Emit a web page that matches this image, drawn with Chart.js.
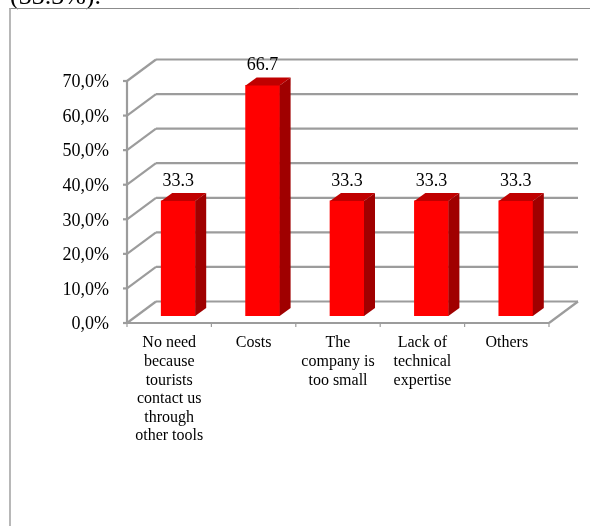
<!DOCTYPE html>
<html>
<head>
<meta charset="utf-8">
<style>
html, body { margin: 0; padding: 0; background: #fff; overflow: hidden; }
#wrap { position: absolute; left: 0; top: 0; width: 590px; height: 526px; }
</style>
<script src="https://cdn.jsdelivr.net/npm/chart.js@4/dist/chart.umd.min.js"></script>
</head>
<body>
<div id="wrap"><canvas id="barChart"></canvas></div>
<script>
var categories = [
	['No need', 'because', 'tourists', 'contact us', 'through', 'other tools'],
	'Costs',
	['The', 'company is', 'too small'],
	['Lack of', 'technical', 'expertise'],
	'Others'
];
var shares = [33.3, 66.7, 33.3, 33.3, 33.3];
var yTicks = [0, 10, 20, 30, 40, 50, 60, 70];

var serif = '"Liberation Serif", "Times New Roman", serif';
var gridColor = '#9c9c9c';

// depth of the fake 3d box and of the bars
var wallDx = 29, wallDy = -21.5;
var barDx = 9, barDy = -7;
var sideDx = 11, sideDy = -8;

function line(ctx, x1, y1, x2, y2) {
	ctx.beginPath();
	ctx.moveTo(x1, y1);
	ctx.lineTo(x2, y2);
	ctx.stroke();
}

function poly(ctx, pts, color) {
	ctx.fillStyle = color;
	ctx.beginPath();
	ctx.moveTo(pts[0][0], pts[0][1]);
	for (var i = 1; i < pts.length; i++) ctx.lineTo(pts[i][0], pts[i][1]);
	ctx.closePath();
	ctx.fill();
}

// frame, clipped sentence above the chart, walls and floor
var wallsPlugin = {
	id: 'walls',
	beforeDraw: function(chart) {
		var ctx = chart.ctx, a = chart.chartArea, y = chart.scales.y;
		ctx.save();
		ctx.fillStyle = '#000';
		ctx.font = '26px ' + serif;
		ctx.textAlign = 'left';
		ctx.textBaseline = 'alphabetic';
		ctx.fillText('(33.3%).', 10, 4);

		ctx.strokeStyle = '#8c8c8c';
		ctx.lineWidth = 1;
		line(ctx, 9.5, 8.5, 590, 8.5);
		ctx.strokeStyle = '#a6a6a6';
		ctx.lineWidth = 1.6;
		line(ctx, 10, 8, 10, 526);

		ctx.strokeStyle = gridColor;
		ctx.lineWidth = 2.2;
		yTicks.forEach(function(t) {
			var py = y.getPixelForValue(t);
			line(ctx, a.left, py, a.left + wallDx, py + wallDy);
			line(ctx, a.left + wallDx, py + wallDy, a.right + wallDx, py + wallDy);
		});
		var y0 = y.getPixelForValue(0);
		line(ctx, a.right, y0, a.right + wallDx, y0 + wallDy);
		ctx.restore();
	}
};

// shifts bars back into the box and adds top and side faces
var barsPlugin = {
	id: 'bars3d',
	beforeDatasetsDraw: function(chart) {
		chart.ctx.save();
		chart.ctx.translate(barDx, barDy);
	},
	afterDatasetsDraw: function(chart) {
		var ctx = chart.ctx;
		chart.getDatasetMeta(0).data.forEach(function(bar, i) {
			var l = bar.x - bar.width / 2, r = bar.x + bar.width / 2;
			poly(ctx, [[l, bar.y], [r, bar.y], [r + sideDx, bar.y + sideDy], [l + sideDx, bar.y + sideDy]], '#c00000');
			poly(ctx, [[r, bar.y], [r + sideDx, bar.y + sideDy], [r + sideDx, bar.base + sideDy], [r, bar.base]], '#a00000');
			ctx.fillStyle = '#000';
			ctx.font = '18px ' + serif;
			ctx.textAlign = 'center';
			ctx.textBaseline = 'alphabetic';
			ctx.fillText(shares[i].toFixed(1), bar.x, bar.y - 15);
		});
		ctx.restore();
	}
};

var barChart = new Chart(document.getElementById('barChart'), {
	type: 'bar',
	data: {
		labels: categories,
		datasets: [{
			data: shares,
			backgroundColor: '#ff0000',
			barThickness: 34
		}]
	},
	options: {
		responsive: true,
		maintainAspectRatio: false,
		animation: false,
		layout: { padding: { left: 0, right: 41, top: 81, bottom: 0 } },
		plugins: { legend: { display: false }, tooltip: { enabled: false } },
		scales: {
			x: {
				grid: { display: false, drawTicks: false },
				border: { display: false },
				afterFit: function(s) { s.height = 203; },
				ticks: {
					color: '#000',
					maxRotation: 0,
					autoSkip: false,
					padding: 11,
					font: { family: serif, size: 16, lineHeight: 1.16 }
				}
			},
			y: {
				min: 0,
				max: 70,
				afterFit: function(s) { s.width = 127; },
				grid: { display: false, drawTicks: false },
				border: { display: false },
				afterBuildTicks: function(s) {
					s.ticks = yTicks.map(function(v) { return { value: v }; });
				},
				ticks: {
					color: '#000',
					padding: 18,
					font: { family: serif, size: 18 },
					callback: function(v) { return v.toFixed(1).replace('.', ',') + '%'; }
				}
			}
		}
	},
	plugins: [wallsPlugin, barsPlugin, {
		// axis ticks sit on top of the box
		id: 'axisMarks',
		afterDraw: function(chart) {
			var ctx = chart.ctx, a = chart.chartArea, y = chart.scales.y;
			ctx.save();
			ctx.strokeStyle = gridColor;
			ctx.lineWidth = 2.2;
			line(ctx, a.left, a.top, a.left, a.bottom);
			line(ctx, a.left, a.bottom, a.right, a.bottom);
			yTicks.forEach(function(t) {
				var py = y.getPixelForValue(t);
				line(ctx, a.left - 4, py, a.left, py);
			});
			ctx.lineWidth = 1.2;
			var step = (a.right - a.left) / categories.length;
			for (var i = 0; i <= categories.length; i++) {
				line(ctx, a.left + i * step, a.bottom, a.left + i * step, a.bottom + 4);
			}
			ctx.restore();
		}
	}]
});

// y labels sit a little below their ticks in the original
var yScale = barChart.scales.y;
var drawYLabels = yScale.drawLabels;
yScale.drawLabels = function(area) {
	barChart.ctx.save();
	barChart.ctx.translate(0, 1.5);
	drawYLabels.call(yScale, area);
	barChart.ctx.restore();
};
barChart.draw();
</script>
</body>
</html>
